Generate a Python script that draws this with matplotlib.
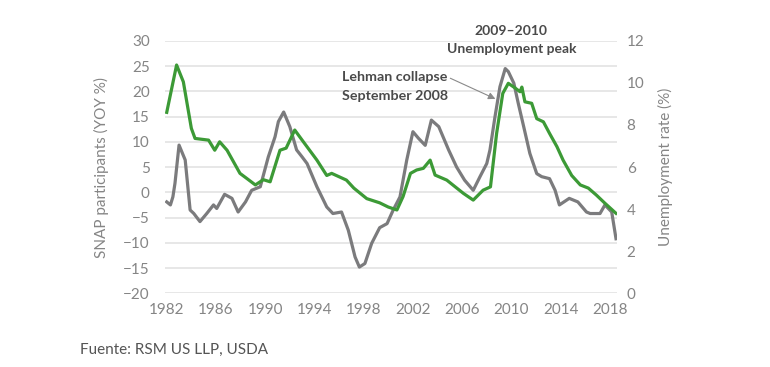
import matplotlib.pyplot as plt

plt.rcParams['font.family'] = ['Lato', 'DejaVu Sans']

# SNAP participants, year-over-year % (left axis, gray)
snap_years = [1982.0, 1982.3, 1982.5, 1982.67, 1983.0, 1983.5, 1983.9, 1984.2, 1984.7,
              1985.25, 1985.8, 1986.06, 1986.7, 1987.3, 1987.8, 1988.4, 1988.9, 1989.6,
              1990.25, 1990.8, 1991.07, 1991.5, 1992.0, 1992.55, 1993.0, 1993.4, 1994.2,
              1995.0, 1995.5, 1996.2, 1996.75, 1997.3, 1997.65, 1998.1, 1998.65, 1999.3,
              1999.9, 2000.4, 2000.95, 2001.5, 2002.0, 2002.45, 2003.0, 2003.5, 2004.1,
              2004.9, 2005.55, 2006.2, 2006.9, 2007.45, 2008.0, 2008.26, 2008.67, 2009.07,
              2009.5, 2009.75, 2010.2, 2010.56, 2011.0, 2011.5, 2012.06, 2012.46, 2013.1,
              2013.55, 2013.9, 2014.7, 2015.4, 2016.1, 2016.4, 2017.2, 2017.6, 2018.15, 2018.5]
snap_yoy = [-1.9, -2.5, -0.9, 1.8, 9.35, 6.4, -3.5, -4.2, -5.8,
            -4.2, -2.5, -3.2, -0.4, -1.2, -3.9, -1.9, 0.4, 1.1,
            7.0, 11.0, 14.0, 15.9, 13.0, 8.4, 7.0, 5.7, 1.1,
            -2.9, -4.2, -3.9, -7.5, -12.8, -14.8, -14.1, -10.1, -7.0,
            -6.2, -3.5, -0.9, 6.4, 12.0, 10.7, 9.3, 14.3, 13.0,
            8.4, 5.0, 2.4, 0.4, 3.1, 5.7, 8.4, 15.0, 20.9,
            24.5, 23.9, 21.6, 17.6, 13.0, 7.7, 3.7, 3.1, 2.7,
            0.4, -2.5, -1.2, -1.9, -3.9, -4.2, -4.2, -2.5, -3.9, -9.2]

# Unemployment rate, % (right axis, green)
unemp_years = [1982.0, 1982.8, 1983.35, 1984.0, 1984.3, 1985.4, 1985.9, 1986.3, 1986.9,
               1987.95, 1988.5, 1989.2, 1989.85, 1990.4, 1991.2, 1991.7, 1992.4, 1993.1,
               1994.2, 1995.0, 1995.4, 1996.6, 1997.2, 1998.25, 1999.3, 2000.0, 2000.7,
               2001.2, 2001.8, 2002.3, 2002.85, 2003.4, 2003.8, 2004.75, 2006.1, 2006.9,
               2007.7, 2008.3, 2008.8, 2009.3, 2009.75, 2010.2, 2010.7, 2010.85, 2011.1,
               2011.65, 2012.06, 2012.6, 2013.1, 2013.7, 2014.2, 2014.9, 2015.6, 2016.25,
               2016.9, 2017.6, 2018.5]
unemp_rate = [8.6, 10.85, 10.05, 7.84, 7.36, 7.28, 6.8, 7.2, 6.8,
              5.7, 5.46, 5.15, 5.4, 5.3, 6.8, 6.9, 7.76, 7.2,
              6.33, 5.6, 5.7, 5.38, 5.0, 4.5, 4.3, 4.1, 3.96,
              4.6, 5.7, 5.86, 5.94, 6.33, 5.62, 5.38, 4.75, 4.43,
              4.9, 5.06, 7.6, 9.5, 9.98, 9.8, 9.58, 9.8, 9.1,
              9.03, 8.3, 8.15, 7.6, 6.97, 6.33, 5.6, 5.15, 5.0,
              4.67, 4.28, 3.8]

year_ticks = list(range(1982, 2019, 4))
left_ticks = list(range(-20, 31, 5))
right_ticks = list(range(0, 13, 2))

gray = '#7b7b7d'
green = '#3c9a36'
label_color = '#858585'

fig = plt.figure(figsize=(7.7, 3.67), dpi=100)
ax = fig.add_axes([0.2143, 0.2008, 0.587, 0.688])
ax2 = ax.twinx()

ax.plot(snap_years, snap_yoy, color=gray, linewidth=2.3)
ax2.plot(unemp_years, unemp_rate, color=green, linewidth=2.3)

ax.set_xlim(1981.86, 2018.58)
ax.set_ylim(-20, 30)
ax2.set_ylim(0, 12)
ax.set_xticks(year_ticks)
ax.set_yticks(left_ticks)
ax2.set_yticks(right_ticks)
ax.grid(axis='y', color='#e3e3e3', linewidth=1.2)
ax.set_axisbelow(True)

for a in (ax, ax2):
    for s in a.spines.values():
        s.set_visible(False)
ax.tick_params(axis='both', length=0, labelsize=11, labelcolor=label_color)
ax.tick_params(axis='y', pad=11)
ax.tick_params(axis='x', pad=7)
ax2.tick_params(axis='y', length=0, labelsize=11, labelcolor=label_color, pad=7)

ax.set_ylabel('SNAP participants (YOY %)', fontsize=11, color=label_color, labelpad=10)
ax2.set_ylabel('Unemployment rate (%)', fontsize=11, color=label_color, labelpad=10)

ax.text(2010.0, 30.1, '2009–2010\nUnemployment peak', ha='center', va='center',
        fontsize=10, fontweight='bold', color='#4a4a4a', linespacing=1.6)
ax.annotate('Lehman collapse\nSeptember 2008', xy=(2008.7, 18.5), xytext=(1996.2, 21.0),
            ha='left', va='center', fontsize=10.3, fontweight='bold', color='#4a4a4a',
            linespacing=1.7,
            arrowprops=dict(arrowstyle='-|>', color='#8a8a8a', lw=0.8,
                            shrinkA=0, shrinkB=0, relpos=(1.0, 0.8)))

fig.text(80 / 770, 1 - 350 / 367, 'Fuente: RSM US LLP, USDA', fontsize=11,
         color='#555555', ha='left', va='center')

fig.savefig('out.png', dpi=100)
